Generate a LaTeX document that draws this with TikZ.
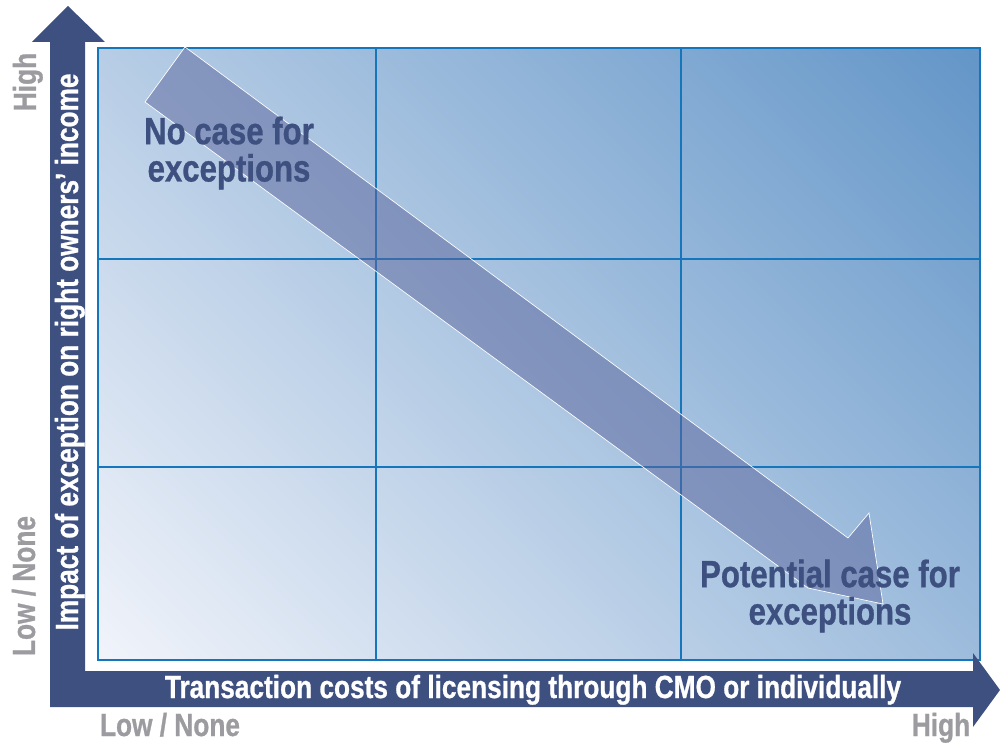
\documentclass[tikz,border=0pt]{standalone}
\usepackage{fontspec}
\setmainfont{Liberation Sans}[FakeStretch=0.82, BoldFeatures={FakeBold=0.8}]
\usetikzlibrary{positioning}
\definecolor{axisblue}{RGB}{62,80,128}
\definecolor{gridblue}{RGB}{22,118,188}
\definecolor{fieldlight}{RGB}{240,243,250}
\definecolor{fielddark}{RGB}{100,150,200}
\definecolor{arrowslate}{RGB}{90,100,155}
\definecolor{labelgrey}{RGB}{155,155,160}
\pgfdeclareverticalshading{fieldshade}{100bp}{color(0bp)=(fieldlight); color(15bp)=(fieldlight); color(85bp)=(fielddark); color(100bp)=(fielddark)}

\begin{document}
\begin{tikzpicture}[x=0.75pt, y=-0.75pt]
    % Define styles
    \tikzset{
        axistext/.style={text=white, anchor=base, font=\bfseries\fontsize{24}{28}\selectfont},
        levellabel/.style={text=labelgrey, anchor=base, font=\bfseries\fontsize{24}{28}\selectfont},
        casetext/.style={text=axisblue, align=center, font=\bfseries\fontsize{28.5}{28}\selectfont},
        gridline/.style={draw=gridblue, line width=2pt}
    }
    \useasboundingbox (0,0) rectangle (1000,745);

    % Shaded field
    \shade[shading=fieldshade, shading angle=-45] (98,48) rectangle (980,660);

    % Grid
    \foreach \gx in {376,681} \draw[gridline] (\gx,48) -- (\gx,660);
    \foreach \gy in {259,467} \draw[gridline] (98,\gy) -- (980,\gy);
    \draw[gridline] (98,48) rectangle (980,660);

    % Diagonal arrow
    \filldraw[fill=arrowslate, fill opacity=0.5, draw=white, line width=0.5pt]
        (185,47) -- (848,538) -- (869,513) -- (883,604) -- (808,588) -- (145,102) -- cycle;

    % Axes
    \fill[axisblue] (50,707) -- (50,42) -- (32,42) -- (68,6) -- (105,42) -- (85,42) -- (85,671)
        -- (973,671) -- (973,653) -- (1000,690) -- (973,727) -- (973,707) -- cycle;

    % Axis titles
    \node[axistext] (xtitle) at (533,698) {Transaction costs of licensing through CMO or individually};
    \node[axistext, rotate=90] (ytitle) at (78,352) {Impact of exception on right owners’ income};

    % Level labels
    \node[levellabel] (xlow) at (170,736) {Low / None};
    \node[levellabel] (xhigh) at (941,736) {High};
    \node[levellabel, rotate=90] (yhigh) at (36,82) {High};
    \node[levellabel, rotate=90] (ylow) at (35,586) {Low / None};

    % Case texts
    \node[casetext] (nocase) at (229,153) {No case for\\exceptions};
    \node[casetext] (potential) at (830,596) {Potential case for\\exceptions};
\end{tikzpicture}
\end{document}
